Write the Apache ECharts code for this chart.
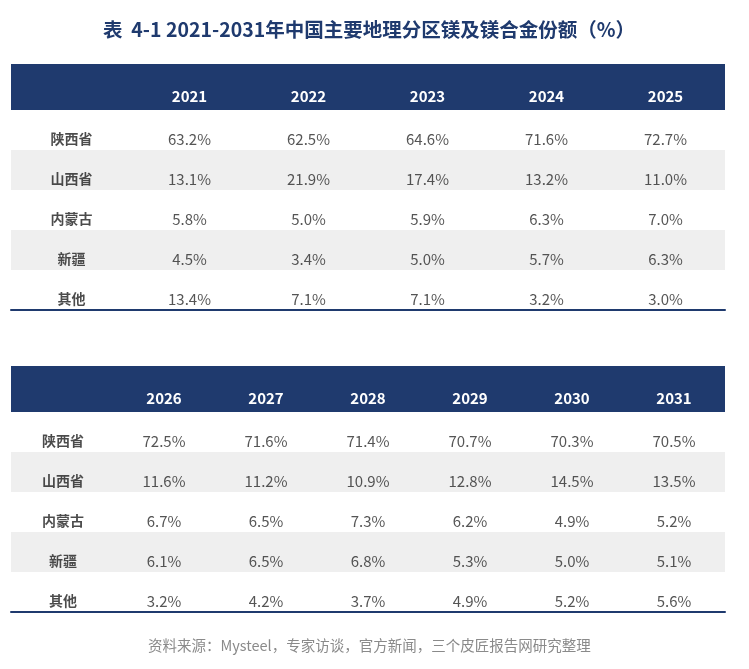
<!DOCTYPE html>
<html>
<head>
<meta charset="utf-8">
<script src="https://cdn.jsdelivr.net/npm/echarts@6/dist/echarts.min.js"></script>
<style>
html,body{margin:0;padding:0;background:#fff;}
#c{width:749px;height:669px;}
</style>
</head>
<body>
<div id="c"></div>
<script>
const years = ['2021','2022','2023','2024','2025','2026','2027','2028','2029','2030','2031'];
const regions = ['陕西省','山西省','内蒙古','新疆','其他'];
const shaanxi = [63.2, 62.5, 64.6, 71.6, 72.7, 72.5, 71.6, 71.4, 70.7, 70.3, 70.5];
const shanxi  = [13.1, 21.9, 17.4, 13.2, 11.0, 11.6, 11.2, 10.9, 12.8, 14.5, 13.5];
const neimenggu = [5.8, 5.0, 5.9, 6.3, 7.0, 6.7, 6.5, 7.3, 6.2, 4.9, 5.2];
const xinjiang = [4.5, 3.4, 5.0, 5.7, 6.3, 6.1, 6.5, 6.8, 5.3, 5.0, 5.1];
const others = [13.4, 7.1, 7.1, 3.2, 3.0, 3.2, 4.2, 3.7, 4.9, 5.2, 5.6];
const table1Years = years.slice(0, 5);
const table2Years = years.slice(5);
const titleText = '表  4-1 2021-2031年中国主要地理分区镁及镁合金份额（%）';
const sourceText = '资料来源：Mysteel，专家访谈，官方新闻，三个皮匠报告网研究整理';

const regionValues = [shaanxi, shanxi, neimenggu, xinjiang, others];
const NAVY = '#1f3a6e';
const FONT = '"Noto Sans CJK SC", "Noto Sans", sans-serif';

function cellData(start, count) {
  const out = [];
  regionValues.forEach((arr, r) => {
    for (let i = 0; i < count; i++) out.push([i + 1, r, arr[start + i]]);
  });
  return out;
}
function labelData() {
  return regions.map((name, r) => [0, r, name]);
}

const chart = echarts.init(document.getElementById('c'), null, {renderer: 'canvas'});

function xAxesFor(gridIndex, yrs) {
  const cats = [''].concat(yrs);
  return [
    {
      gridIndex, type: 'category', position: 'top', data: cats, z: 10,
      axisLine: {show: false}, axisTick: {show: false}, splitLine: {show: false},
      axisLabel: {color: '#ffffff', fontWeight: 'bold', fontSize: 15, fontFamily: FONT, margin: 14, verticalAlign: 'middle', interval: 0}
    },
    {
      gridIndex, type: 'category', position: 'bottom', data: cats, z: 10,
      axisLine: {show: true, lineStyle: {color: NAVY, width: 2}}, axisTick: {show: false},
      axisLabel: {show: false}, splitLine: {show: false}
    }
  ];
}
function yAxisFor(gridIndex) {
  return {
    gridIndex, type: 'category', inverse: true, data: regions,
    axisLine: {show: false}, axisTick: {show: false}, axisLabel: {show: false},
    splitLine: {show: false},
    splitArea: {show: true, areaStyle: {color: ['#ffffff', '#efefef']}}
  };
}
function valueSeries(xi, yi, data) {
  return {
    type: 'scatter', xAxisIndex: xi, yAxisIndex: yi, data, symbolSize: 1,
    itemStyle: {color: 'rgba(0,0,0,0)'}, silent: true,
    label: {show: true, position: 'inside', offset: [0, 9], color: '#2a2a2a', fontSize: 15, fontFamily: FONT,
      formatter: p => p.value[2].toFixed(1) + '%'}
  };
}
function nameSeries(xi, yi) {
  return {
    type: 'scatter', xAxisIndex: xi, yAxisIndex: yi, data: labelData(), symbolSize: 1,
    itemStyle: {color: 'rgba(0,0,0,0)'}, silent: true,
    label: {show: true, position: 'inside', offset: [1, 9], color: '#1e1e1e', fontSize: 14, fontWeight: 'bold', fontFamily: FONT,
      formatter: p => regions[p.value[1]]}
  };
}

const option = {
  animation: false,
  backgroundColor: '#ffffff',
  title: [
    {text: titleText, left: 103, top: 20, padding: 0,
      textStyle: {color: NAVY, fontSize: 19.5, fontWeight: 'bold', fontFamily: FONT, lineHeight: 20}},
    {text: sourceText, left: 148, top: 638, padding: 0,
      textStyle: {color: '#8a8a8a', fontSize: 14.5, fontWeight: 'normal', fontFamily: FONT, lineHeight: 15}}
  ],
  graphic: [
    {type: 'rect', z: -1, shape: {x: 11, y: 64, width: 714, height: 46}, style: {fill: NAVY}},
    {type: 'rect', z: -1, shape: {x: 11, y: 366, width: 714, height: 46}, style: {fill: NAVY}}
  ],
  grid: [
    {left: 11, width: 714, top: 110, height: 200},
    {left: 11, width: 714, top: 412, height: 200}
  ],
  xAxis: xAxesFor(0, table1Years).concat(xAxesFor(1, table2Years)),
  yAxis: [yAxisFor(0), yAxisFor(1)],
  series: [
    valueSeries(0, 0, cellData(0, 5)),
    nameSeries(0, 0),
    valueSeries(2, 1, cellData(5, 6)),
    nameSeries(2, 1)
  ]
};
chart.setOption(option);
</script>
</body>
</html>
